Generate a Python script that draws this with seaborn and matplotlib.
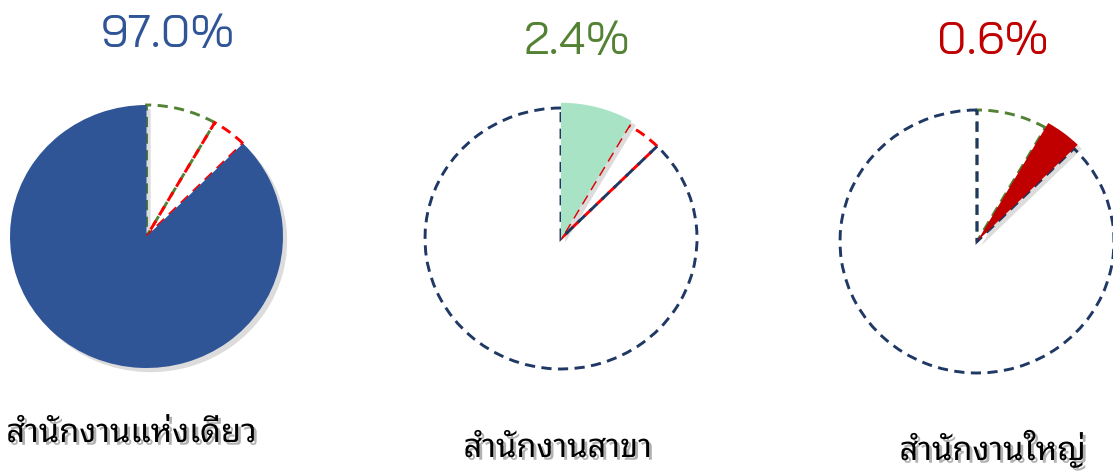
import matplotlib
matplotlib.use("Agg")
import matplotlib.pyplot as plt
import matplotlib.patheffects as pe
import seaborn as sns

# ---------------- data ----------------
titles = ["97.0%", "2.4%", "0.6%"]
labels = ["สำนักงานแห่งเดียว", "สำนักงานสาขา", "สำนักงานใหญ่"]
# visual segment shares of each pie (green, red, blue), clockwise from 12 o'clock
segment_names = ["สำนักงานสาขา", "สำนักงานใหญ่", "สำนักงานแห่งเดียว"]
segment_shares = [8.33, 4.17, 87.5]
highlight = [2, 0, 1]          # which segment is filled in each pie

sns.set_theme(style="white")
plt.rcParams["font.family"] = ["Bai Jamjuree", "Open Sans", "DejaVu Sans"]
thai_family = ["Noto Sans Thai Looped", "Noto Sans Thai", "Loma", "DejaVu Sans"]

W, H = 1113, 472
fig = plt.figure(figsize=(W / 100, H / 100), dpi=100)

seg_colors = ["#548235", "#FF0000", "#1F3864"]
fill_colors = ["#A8E3C6", "#C00000", "#2F5597"]
title_colors = ["#2F5597", "#548235", "#C00000"]

# pie geometry in pixels: center x, center y, rx, ry
geom = [(146.5, 236.5, 136.5, 131.5), (561, 238.5, 136, 130.5), (977, 241.5, 137, 131.5)]
title_pos = [(167.5, 47), (577.5, 54), (992.5, 54)]
label_pos = [(131.5, 442), (557.5, 457), (992.5, 460)]

shadow = [pe.SimplePatchShadow(offset=(3, -3), shadow_rgbFace="k", alpha=0.15), pe.Normal()]

for i in range(3):
    cx, cy, rx, ry = geom[i]
    ax = fig.add_axes([(cx - rx) / W, 1 - (cy + ry) / H, 2 * rx / W, 2 * ry / H])
    wedges, _ = ax.pie(segment_shares, startangle=90, counterclock=False, radius=1.0)
    ax.set_aspect("auto")
    ax.set_xlim(-1, 1)
    ax.set_ylim(-1, 1)
    ax.axis("off")
    for j, w in enumerate(wedges):
        if j == highlight[i]:
            w.set_facecolor(fill_colors[j])
            w.set_edgecolor("none")
            w.set_zorder(3)
            if i > 0:
                w.set_radius(1.04)
            w.set_path_effects(shadow)
        else:
            w.set_facecolor("none")
            w.set_edgecolor(seg_colors[j])
            w.set_linestyle((0, (3.5, 2.2)))
            w.set_linewidth(2.1)
            w.set_zorder(2)
    ax.patch.set_visible(False)

    tx, ty = title_pos[i]
    fig.text(tx / W, 1 - ty / H, titles[i], color=title_colors[i], fontsize=33,
             ha="center", va="baseline")
    lx, ly = label_pos[i]
    fig.text(lx / W, 1 - ly / H, labels[i], color="black", fontsize=23.5, fontweight="bold",
             family=thai_family, ha="center", va="baseline",
             path_effects=[pe.withSimplePatchShadow(offset=(2, -2), alpha=0.3)])

fig.savefig("out.png", dpi=100)
